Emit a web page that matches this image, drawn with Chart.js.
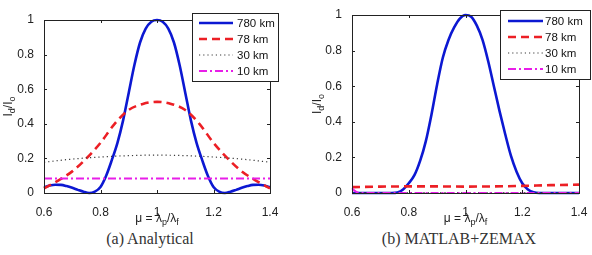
<!DOCTYPE html>
<html>
<head>
<meta charset="utf-8">
<title>Diffraction intensity vs mu</title>
<script src="https://cdn.jsdelivr.net/npm/chart.js"></script>
<style>
    body { margin: 0; background: #fff; width: 592px; height: 255px; overflow: hidden; }
    .panel { position: absolute; top: 0; }
    .cap { position: absolute; top: 230px; width: 296px; text-align: center;
           font-family: "Liberation Serif", serif; font-size: 16px; color: #333; }
</style>
</head>
<body>
<canvas id="chartA" class="panel" width="296" height="230" style="left:0"></canvas>
<canvas id="chartB" class="panel" width="296" height="230" style="left:296px"></canvas>
<div class="cap" style="left:2px">(a) Analytical</div>
<div class="cap" style="left:311px">(b) MATLAB+ZEMAX</div>

<script>
// ---- data ----
const seriesNames = ['780 km', '78 km', '30 km', '10 km'];
const xTicks = [0.6, 0.8, 1, 1.2, 1.4];
const xTickLabels = ['0.6', '0.8', '1', '1.2', '1.4'];
const yTicks = [0, 0.2, 0.4, 0.6, 0.8, 1];
const yTickLabels = ['0', '0.2', '0.4', '0.6', '0.8', '1'];

// (a) analytical
const muA780 = [0.60, 0.62, 0.64, 0.66, 0.68, 0.70, 0.72, 0.74, 0.76, 0.78, 0.80, 0.82, 0.84, 0.86, 0.88, 0.90, 0.92, 0.94, 0.96, 0.98, 1.00,
                1.02, 1.04, 1.06, 1.08, 1.10, 1.12, 1.14, 1.16, 1.18, 1.20, 1.22, 1.24, 1.26, 1.28, 1.30, 1.32, 1.34, 1.36, 1.38, 1.40];
const a780 = [0.033, 0.043, 0.048, 0.047, 0.040, 0.030, 0.018, 0.007, 0.000, 0.008, 0.035, 0.10, 0.19, 0.29, 0.42, 0.58, 0.74, 0.87, 0.95, 0.99, 1.00,
              0.99, 0.95, 0.87, 0.74, 0.58, 0.42, 0.29, 0.19, 0.10, 0.035, 0.008, 0.000, 0.007, 0.018, 0.030, 0.040, 0.047, 0.048, 0.043, 0.033];
const muA78 = [0.60, 0.65, 0.70, 0.75, 0.80, 0.85, 0.90, 0.95, 1.00, 1.05, 1.10, 1.15, 1.20, 1.25, 1.30, 1.35, 1.40];
const a78 = [0.027, 0.072, 0.125, 0.20, 0.29, 0.40, 0.48, 0.515, 0.527, 0.515, 0.48, 0.40, 0.29, 0.20, 0.125, 0.072, 0.027];
const muA30 = [0.6, 0.7, 0.8, 0.9, 1.0, 1.1, 1.2, 1.3, 1.4];
const a30 = [0.178, 0.196, 0.208, 0.216, 0.219, 0.216, 0.208, 0.196, 0.178];
const muA10 = [0.6, 0.8, 1.0, 1.2, 1.4];
const a10 = [0.084, 0.084, 0.084, 0.084, 0.084];

// (b) MATLAB+ZEMAX
const muB780 = muA780;
const b780 = [0, 0, 0, 0, 0, 0, 0, 0, 0.003, 0.02, 0.055, 0.10, 0.18, 0.29, 0.44, 0.61, 0.76, 0.86, 0.93, 0.98, 1.00,
              0.99, 0.94, 0.86, 0.74, 0.60, 0.46, 0.33, 0.21, 0.12, 0.055, 0.02, 0.004, 0, 0, 0, 0, 0, 0, 0, 0];
const muB78 = [0.6, 0.7, 0.8, 0.9, 1.0, 1.1, 1.2, 1.3, 1.4];
const b78 = [0.033, 0.036, 0.037, 0.037, 0.036, 0.037, 0.040, 0.044, 0.047];
const muB30 = [0.6, 1.0, 1.4];
const b30 = [0.002, 0.002, 0.002];
const muB10 = [0.60, 0.61, 0.62, 0.63, 0.70, 1.00, 1.40];
const b10 = [0.026, 0.012, 0.003, 0, 0, 0, 0];

// ---- styles ----
const lineStyles = [
    { color: '#0c18d2', width: 2.6, dash: [] },
    { color: '#ec1f25', width: 2.6, dash: [8, 5] },
    { color: '#3a3a3a', width: 1.2, dash: [1.2, 3] },
    { color: '#e81ee8', width: 2, dash: [8, 3, 2, 3] }
];
const axisColor = '#222';
const sansFont = '"Liberation Sans", Arial, sans-serif';

function pts(xs, ys) { return xs.map((x, i) => ({ x: x, y: ys[i] })); }

// draw text with subscripts, parts = [[text, isSub], ...]
function drawParts(ctx, parts, cx, cy, size) {
    const subSize = Math.round(size * 0.72);
    let total = 0;
    parts.forEach(p => {
        ctx.font = (p[1] ? subSize : size) + 'px ' + sansFont;
        total += ctx.measureText(p[0]).width;
    });
    let x = cx - total / 2;
    ctx.textAlign = 'left';
    ctx.textBaseline = 'middle';
    parts.forEach(p => {
        ctx.font = (p[1] ? subSize : size) + 'px ' + sansFont;
        ctx.fillText(p[0], x, p[1] ? cy + size * 0.32 : cy);
        x += ctx.measureText(p[0]).width;
    });
}

const matlabAxes = {
    id: 'matlabAxes',
    afterDatasetsDraw(chart, args, opts) {
        const ctx = chart.ctx, a = chart.chartArea;
        const xs = chart.scales.x, ys = chart.scales.y;
        ctx.save();
        ctx.strokeStyle = axisColor;
        ctx.lineWidth = 1;
        ctx.setLineDash([]);
        ctx.strokeRect(Math.round(a.left) + 0.5, Math.round(a.top) + 0.5,
                       Math.round(a.right - a.left), Math.round(a.bottom - a.top));
        ctx.beginPath();
        xTicks.forEach(v => {
            const px = Math.round(xs.getPixelForValue(v)) + 0.5;
            ctx.moveTo(px, a.bottom); ctx.lineTo(px, a.bottom - 3);
            ctx.moveTo(px, a.top); ctx.lineTo(px, a.top + 3);
        });
        yTicks.forEach(v => {
            const py = Math.round(ys.getPixelForValue(v)) + 0.5;
            ctx.moveTo(a.left, py); ctx.lineTo(a.left + 3, py);
            ctx.moveTo(a.right, py); ctx.lineTo(a.right - 3, py);
        });
        ctx.stroke();

        // axis titles
        ctx.fillStyle = '#222';
        drawParts(ctx, [['\u03bc = \u03bb', false], ['p', true], ['/\u03bb', false], ['f', true]],
                  (a.left + a.right) / 2, opts.xTitleY, 12);
        ctx.translate(opts.yTitleX, (a.top + a.bottom) / 2);
        ctx.rotate(-Math.PI / 2);
        drawParts(ctx, [['I', false], ['d', true], ['/I', false], ['o', true]], 0, 0, 12);
        ctx.restore();
    },
    afterDraw(chart, args, opts) {
        const ctx = chart.ctx, L = opts.legend;
        ctx.save();
        ctx.fillStyle = '#fff';
        ctx.fillRect(L.x, L.y, L.w, L.h);
        ctx.strokeStyle = axisColor;
        ctx.lineWidth = 1;
        ctx.strokeRect(L.x + 0.5, L.y + 0.5, L.w, L.h);
        seriesNames.forEach((name, i) => {
            const st = lineStyles[i];
            const y = L.row0 + i * L.step;
            ctx.beginPath();
            ctx.strokeStyle = st.color;
            ctx.lineWidth = st.width;
            ctx.setLineDash(st.dash);
            ctx.moveTo(L.line0, y); ctx.lineTo(L.line1, y);
            ctx.stroke();
            ctx.setLineDash([]);
            ctx.fillStyle = '#111';
            ctx.font = '11.5px ' + sansFont;
            ctx.textAlign = 'left';
            ctx.textBaseline = 'middle';
            ctx.fillText(name, L.textX, y + 0.5);
        });
        ctx.restore();
    }
};

function makeChart(id, series, cfg) {
    return new Chart(document.getElementById(id), {
        type: 'line',
        data: {
            datasets: series.map((s, i) => ({
                label: seriesNames[i],
                data: pts(s[0], s[1]),
                borderColor: lineStyles[i].color,
                borderWidth: lineStyles[i].width,
                borderDash: lineStyles[i].dash,
                pointRadius: 0,
                fill: false,
                cubicInterpolationMode: 'monotone',
                clip: false,
                order: 4 - i
            }))
        },
        options: {
            responsive: false,
            animation: false,
            devicePixelRatio: 1,
            layout: { padding: { top: cfg.top, right: cfg.right, left: 0, bottom: 0 } },
            plugins: {
                legend: { display: false },
                tooltip: { enabled: false },
                matlabAxes: cfg
            },
            scales: {
                x: {
                    type: 'linear', min: 0.6, max: 1.4,
                    grid: { display: false }, border: { display: false },
                    afterBuildTicks: s => { s.ticks = xTicks.map(v => ({ value: v })); },
                    afterFit: s => { s.height = 37; },
                    ticks: {
                        padding: 4, color: '#222', maxRotation: 0, autoSkip: false,
                        font: { family: sansFont, size: 12 },
                        callback: v => xTickLabels[xTicks.indexOf(v)]
                    }
                },
                y: {
                    min: 0, max: 1,
                    grid: { display: false }, border: { display: false },
                    afterBuildTicks: s => { s.ticks = yTicks.map(v => ({ value: v })); },
                    afterFit: s => { s.width = cfg.yWidth; },
                    ticks: {
                        padding: 2, color: '#222', autoSkip: false,
                        font: { family: sansFont, size: 12 },
                        callback: v => yTickLabels[yTicks.indexOf(v)]
                    }
                }
            }
        },
        plugins: [matlabAxes]
    });
}

makeChart('chartA', [[muA780, a780], [muA78, a78], [muA30, a30], [muA10, a10]], {
    top: 20, right: 26, yWidth: 44, xTitleY: 219, yTitleX: 9,
    legend: { x: 192, y: 13, w: 86, h: 68, row0: 23, step: 16, line0: 199, line1: 233, textX: 237 }
});
makeChart('chartB', [[muB780, b780], [muB78, b78], [muB30, b30], [muB10, b10]], {
    top: 15, right: 13, yWidth: 56, xTitleY: 219, yTitleX: 22,
    legend: { x: 204, y: 10, w: 90, h: 69, row0: 21, step: 16, line0: 212, line1: 247, textX: 249 }
});
</script>
</body>
</html>
